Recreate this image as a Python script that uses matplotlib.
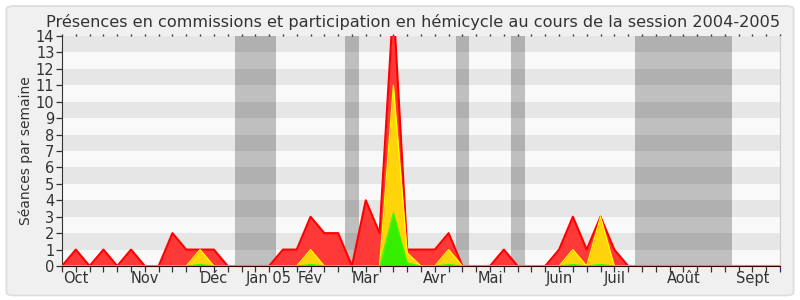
import matplotlib
matplotlib.use("Agg")
import matplotlib.pyplot as plt
from matplotlib.patches import FancyBboxPatch
import numpy as np

title = "Présences en commissions et participation en hémicycle au cours de la session 2004-2005"
ylabel = "Séances par semaine"

weeks = list(range(53))
commission = [0, 1, 0, 1, 0, 1, 0, 0, 2, 1, 1, 1, 0, 0, 0, 0, 1, 1, 3, 2, 2, 0, 4, 2, 16,
              1, 1, 1, 2, 0, 0, 0, 1, 0, 0, 0, 1, 3, 1, 3, 1, 0, 0, 0, 0, 0, 0, 0, 0, 0,
              0, 0, 0]
hemicycle = [0, 0, 0, 0, 0, 0, 0, 0, 0, 0, 1, 0, 0, 0, 0, 0, 0, 0, 1, 0, 0, 0, 0, 0, 11,
             0.8, 0, 0, 1, 0, 0, 0, 0, 0, 0, 0, 0, 1, 0, 3, 0, 0, 0, 0, 0, 0, 0, 0, 0, 0,
             0, 0, 0]
interventions = [0, 0, 0, 0, 0, 0, 0, 0, 0, 0, 0.1, 0, 0, 0, 0, 0, 0, 0, 0.1, 0, 0, 0, 0, 0, 3.25,
                 0.2, 0, 0, 0.1, 0, 0, 0, 0, 0, 0, 0, 0, 0.1, 0, 0.1, 0, 0, 0, 0, 0, 0, 0, 0, 0, 0,
                 0, 0, 0]
vacations = [(12.5, 15.5), (20.5, 21.5), (28.5, 29.5), (32.5, 33.5), (41.5, 48.5)]
month_labels = ["Oct", "Nov", "Déc", "Jan 05", "Fév", "Mar", "Avr", "Mai", "Juin", "Juil", "Août", "Sept"]
month_weeks = [1, 6, 11, 15, 18, 22, 27, 31, 36, 40, 45, 50]
ymax = 14

fig = plt.figure(figsize=(8, 3), dpi=100)
fig.patch.set_facecolor("white")
bg = FancyBboxPatch((0.008, 0.015), 0.984, 0.965, boxstyle="round,pad=0,rounding_size=0.01",
                    transform=fig.transFigure, facecolor="#F0F0F0", edgecolor="#DCDCDC",
                    linewidth=1.2, zorder=-10)
fig.patches.append(bg)

ax = fig.add_axes([0.0775, 0.1133, 0.8975, 0.7667])
ax.set_facecolor("#F9F9F9")

# horizontal stripes
for k in range(ymax):
    if k % 2 == 1:
        ax.axhspan(k, k + 1, color="#E6E6E6", lw=0, zorder=0)

# vacation bands
for a, b in vacations:
    ax.axvspan(a, b, color="black", alpha=0.23, lw=0, zorder=1)

x = np.array(weeks)
ax.fill_between(x, commission, color="#FF3838", lw=0, zorder=2)
ax.plot(x, commission, color="#FF0000", lw=1.5, zorder=3)
ax.fill_between(x, hemicycle, color="#FFD40A", lw=0, zorder=4)
ax.plot(x, hemicycle, color="#FFFF00", lw=0.9, zorder=5)
ax.fill_between(x, interventions, color="#35EE00", lw=0, zorder=6)
ax.plot(x, interventions, color="#33FF00", lw=0.8, zorder=7)

ax.set_xlim(0, 52)
ax.set_ylim(0, ymax)

labels = [""] * len(weeks)
for w, m in zip(month_weeks, month_labels):
    labels[w] = m
ax.set_xticks(weeks)
ax.set_xticklabels(labels)
ax.set_yticks(range(ymax + 1))
ax.tick_params(axis="x", length=4.3, width=0.9, color="#333333", pad=-0.5,
               labelsize=10.5, labelcolor="#333333")
ax.tick_params(axis="y", length=4, width=0.9, color="#333333", pad=1.5,
               labelsize=10.5, labelcolor="#333333")

secax = ax.secondary_xaxis("top")
secax.set_xticks(weeks)
secax.set_xticklabels([])
secax.tick_params(length=1.5, width=1, color="#333333", direction="out")
secax.spines["top"].set_visible(False)

ax.spines["top"].set_visible(False)
ax.spines["right"].set_color("#CCCCCC")
ax.spines["left"].set_color("#333333")
ax.spines["bottom"].set_color("#330000")
ax.spines["bottom"].set_zorder(8)

ax.set_ylabel(ylabel, fontsize=10, color="#333333", labelpad=2)
fig.text(0.5165, 0.927, title, ha="center", va="center", fontsize=11.6, color="#333333")

fig.savefig("out.png", dpi=100, facecolor=fig.get_facecolor())
